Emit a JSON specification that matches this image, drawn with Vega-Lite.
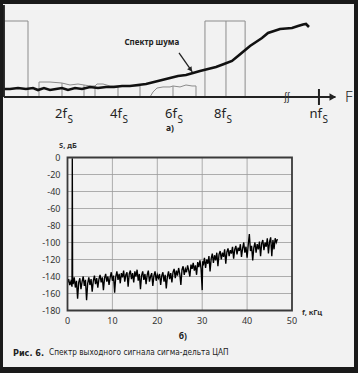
{
"$schema": "https://vega.github.io/schema/vega-lite/v6.json",
"width": 351, "height": 363, "autosize": "none",
"padding": {"left": 3, "top": 4, "right": 4, "bottom": 6},
"background": "#1a1a1a",
"config": {"view": {"fill": "#f2f2f2", "stroke": null}, "axis": {"disable": true}, "text": {"font": "Noto Sans", "color": "#222"}},
"resolve": {"scale": {"x": "independent", "y": "independent"}},
"layer": [
{
"encoding": {
"x": {"field": "a", "type": "quantitative", "scale": {"domain": [0, 12], "range": [9, 332.4], "nice": false, "zero": false}},
"y": {"field": "b", "type": "quantitative", "scale": {"domain": [0, 1], "range": [93, 17], "nice": false, "zero": false}}
},
"layer": [
{"data": {"values": [{"a": -0.3, "a2": 0.594, "b": 0, "b2": 1}, {"a": 7.16, "a2": 8.65, "b": 0, "b2": 1}]},
 "mark": {"type": "rect", "fillOpacity": 0, "stroke": "#8c8c8c", "strokeWidth": 1},
 "encoding": {"x2": {"field": "a2"}, "y2": {"field": "b2"}}},
{"data": {"values": [{"a": 7.94, "b": 0, "b2": 1}, {"a": 1.855, "b": 0, "b2": 0.184}, {"a": 2.672, "b": 0, "b2": 0.158}, {"a": 3.08, "b": 0, "b2": 0.145}, {"a": 3.933, "b": 0, "b2": 0.145}, {"a": 5.974, "b": 0, "b2": 0.145}]},
 "mark": {"type": "rule", "stroke": "#8c8c8c", "strokeWidth": 1},
 "encoding": {"y2": {"field": "b2"}}},
{"data": {"values": [
 {"a": 1.002, "b": 0, "g": 1, "i": 1}, {"a": 1.002, "b": 0.197, "g": 1, "i": 2}, {"a": 1.41, "b": 0.197, "g": 1, "i": 3}, {"a": 1.855, "b": 0.184, "g": 1, "i": 4}, {"a": 2.152, "b": 0.158, "g": 1, "i": 5}, {"a": 2.449, "b": 0.171, "g": 1, "i": 6}, {"a": 2.672, "b": 0.158, "g": 1, "i": 7}, {"a": 2.894, "b": 0.145, "g": 1, "i": 8}, {"a": 3.08, "b": 0.145, "g": 1, "i": 9}, {"a": 3.154, "b": 0.171, "g": 1, "i": 10}, {"a": 3.377, "b": 0.171, "g": 1, "i": 11}, {"a": 3.636, "b": 0.145, "g": 1, "i": 12}, {"a": 3.933, "b": 0.145, "g": 1, "i": 13}, {"a": 4.193, "b": 0.145, "g": 1, "i": 14}, {"a": 4.49, "b": 0.145, "g": 1, "i": 15}, {"a": 4.75, "b": 0.145, "g": 1, "i": 16}, {"a": 4.75, "b": 0, "g": 1, "i": 17},
 {"a": 5.121, "b": 0, "g": 2, "i": 1}, {"a": 5.232, "b": 0.066, "g": 2, "i": 2}, {"a": 5.38, "b": 0.118, "g": 2, "i": 3}, {"a": 5.603, "b": 0.132, "g": 2, "i": 4}, {"a": 5.863, "b": 0.132, "g": 2, "i": 5}, {"a": 5.974, "b": 0.145, "g": 2, "i": 6}, {"a": 6.234, "b": 0.132, "g": 2, "i": 7}, {"a": 6.456, "b": 0.158, "g": 2, "i": 8}, {"a": 6.679, "b": 0.145, "g": 2, "i": 9}, {"a": 6.827, "b": 0.145, "g": 2, "i": 10}, {"a": 6.827, "b": 0, "g": 2, "i": 11}
]},
 "mark": {"type": "line", "stroke": "#8c8c8c", "strokeWidth": 1},
 "encoding": {"detail": {"field": "g"}, "order": {"field": "i", "type": "quantitative"}}},
{"data": {"values": [
 {"a": -0.297, "b": 0.105}, {"a": -0.074, "b": 0.105}, {"a": 0.223, "b": 0.118}, {"a": 0.519, "b": 0.105}, {"a": 0.779, "b": 0.118}, {"a": 0.965, "b": 0.092}, {"a": 1.187, "b": 0.118}, {"a": 1.41, "b": 0.092}, {"a": 1.633, "b": 0.105}, {"a": 1.855, "b": 0.118}, {"a": 2.078, "b": 0.092}, {"a": 2.338, "b": 0.118}, {"a": 2.597, "b": 0.105}, {"a": 2.894, "b": 0.132}, {"a": 3.191, "b": 0.118}, {"a": 3.488, "b": 0.132}, {"a": 3.785, "b": 0.132}, {"a": 4.082, "b": 0.145}, {"a": 4.378, "b": 0.145}, {"a": 4.675, "b": 0.158}, {"a": 4.972, "b": 0.171}, {"a": 5.269, "b": 0.197}, {"a": 5.566, "b": 0.224}, {"a": 5.863, "b": 0.25}, {"a": 6.16, "b": 0.276}, {"a": 6.456, "b": 0.289}, {"a": 6.716, "b": 0.316}, {"a": 6.976, "b": 0.342}, {"a": 7.273, "b": 0.368}, {"a": 7.57, "b": 0.395}, {"a": 7.866, "b": 0.434}, {"a": 8.163, "b": 0.474}, {"a": 8.386, "b": 0.539}, {"a": 8.609, "b": 0.605}, {"a": 8.831, "b": 0.671}, {"a": 9.054, "b": 0.724}, {"a": 9.276, "b": 0.776}, {"a": 9.499, "b": 0.842}, {"a": 9.722, "b": 0.868}, {"a": 9.944, "b": 0.895}, {"a": 10.167, "b": 0.901}, {"a": 10.39, "b": 0.908}, {"a": 10.612, "b": 0.934}, {"a": 10.798, "b": 0.954}, {"a": 10.909, "b": 0.961}, {"a": 11.02, "b": 0.921}
]},
 "mark": {"type": "line", "stroke": "#111", "strokeWidth": 2.6}},
{"data": {"values": [{"a": -0.3, "a2": 12.0, "b": 0, "b2": 0}, {"a": -0.3, "a2": -0.3, "b": 0, "b2": 1.21}, {"a": 11.39, "a2": 11.39, "b": -0.105, "b2": 0.105}]},
 "mark": {"type": "rule", "stroke": "#222", "strokeWidth": 2},
 "encoding": {"x2": {"field": "a2"}, "y2": {"field": "b2"}}},
{"data": {"values": [{"a": 6.197, "a2": 6.69, "b": 0.579, "b2": 0.33}]},
 "mark": {"type": "rule", "stroke": "#222", "strokeWidth": 1.3},
 "encoding": {"x2": {"field": "a2"}, "y2": {"field": "b2"}}},
{"data": {"values": [{"a": 6.63, "b": 0.36}]},
 "mark": {"type": "point", "shape": "triangle-down", "filled": true, "color": "#222", "size": 30, "angle": -35, "opacity": 1}},
{"data": {"values": [{"a": 11.9, "b": 0}]},
 "mark": {"type": "point", "shape": "triangle-right", "filled": true, "color": "#222", "size": 55, "opacity": 1}},
{"data": {"values": [{"a": 10.2, "b": 0, "t": "ʃʃ"}]},
 "mark": {"type": "text", "fontSize": 10, "align": "center", "baseline": "middle", "color": "#333"},
 "encoding": {"text": {"field": "t"}}},
{"data": {"values": [{"a": 2.04, "b": -0.276, "t": "2f"}, {"a": 4.08, "b": -0.276, "t": "4f"}, {"a": 6.12, "b": -0.276, "t": "6f"}, {"a": 7.94, "b": -0.276, "t": "8f"}, {"a": 11.5, "b": -0.276, "t": "nf"}]},
 "mark": {"type": "text", "fontSize": 13, "align": "right", "baseline": "alphabetic"},
 "encoding": {"text": {"field": "t"}}},
{"data": {"values": [{"a": 2.04, "b": -0.342, "t": "S"}, {"a": 4.08, "b": -0.342, "t": "S"}, {"a": 6.12, "b": -0.342, "t": "S"}, {"a": 7.94, "b": -0.342, "t": "S"}, {"a": 11.5, "b": -0.342, "t": "S"}]},
 "mark": {"type": "text", "fontSize": 10, "align": "left", "baseline": "alphabetic", "dx": 0.5},
 "encoding": {"text": {"field": "t"}}},
{"data": {"values": [{"a": 12.5, "b": 0, "t": "F"}]},
 "mark": {"type": "text", "fontSize": 15, "align": "center", "baseline": "middle", "fontWeight": 300},
 "encoding": {"text": {"field": "t"}}},
{"data": {"values": [{"a": 5.86, "b": -0.408, "t": "а)"}]},
 "mark": {"type": "text", "fontSize": 8.5, "fontWeight": "bold", "align": "center", "baseline": "middle"},
 "encoding": {"text": {"field": "t"}}},
{"data": {"values": [{"a": 5.19, "b": 0.704, "t": "Спектр шума"}]},
 "mark": {"type": "text", "fontSize": 8, "fontWeight": "bold", "align": "center", "baseline": "middle"},
 "encoding": {"text": {"field": "t"}}}
]
},
{
"encoding": {
"x": {"field": "f", "type": "quantitative", "scale": {"domain": [0, 50], "range": [64.5, 289], "nice": false, "zero": false}},
"y": {"field": "s", "type": "quantitative", "scale": {"domain": [-180, 0], "range": [306.5, 153.5], "nice": false, "zero": false}}
},
"layer": [
{"data": {"values": [
 {"f": 10, "f2": 10, "s": -180, "s2": 0}, {"f": 20, "f2": 20, "s": -180, "s2": 0}, {"f": 30, "f2": 30, "s": -180, "s2": 0}, {"f": 40, "f2": 40, "s": -180, "s2": 0},
 {"f": 0, "f2": 50, "s": -20, "s2": -20}, {"f": 0, "f2": 50, "s": -40, "s2": -40}, {"f": 0, "f2": 50, "s": -60, "s2": -60}, {"f": 0, "f2": 50, "s": -80, "s2": -80}, {"f": 0, "f2": 50, "s": -100, "s2": -100}, {"f": 0, "f2": 50, "s": -120, "s2": -120}, {"f": 0, "f2": 50, "s": -140, "s2": -140}, {"f": 0, "f2": 50, "s": -160, "s2": -160}
]},
 "mark": {"type": "rule", "stroke": "#9a9a9a", "strokeWidth": 0.8},
 "encoding": {"x2": {"field": "f2"}, "y2": {"field": "s2"}}},
{"data": {"values": [
 {"f": 0.05, "s": -147}, {"f": 0.25, "s": -143}, {"f": 0.5, "s": -150}, {"f": 0.75, "s": -146}, {"f": 1.0, "s": -152}, {"f": 1.07, "s": -1}, {"f": 1.14, "s": -144}, {"f": 1.25, "s": -149}, {"f": 1.5, "s": -141}, {"f": 1.75, "s": -153}, {"f": 2.0, "s": -145}, {"f": 2.25, "s": -166}, {"f": 2.5, "s": -147}, {"f": 2.75, "s": -142}, {"f": 3.0, "s": -155}, {"f": 3.25, "s": -146}, {"f": 3.5, "s": -140}, {"f": 3.75, "s": -151}, {"f": 4.0, "s": -144}, {"f": 4.25, "s": -168}, {"f": 4.5, "s": -148}, {"f": 4.75, "s": -141}, {"f": 5.0, "s": -150}, {"f": 5.25, "s": -143}, {"f": 5.5, "s": -158}, {"f": 5.75, "s": -145}, {"f": 6.0, "s": -139}, {"f": 6.25, "s": -149}, {"f": 6.5, "s": -142}, {"f": 6.75, "s": -153}, {"f": 7.0, "s": -143}, {"f": 7.25, "s": -138}, {"f": 7.5, "s": -147}, {"f": 7.75, "s": -141}, {"f": 8.0, "s": -156}, {"f": 8.25, "s": -142}, {"f": 8.5, "s": -137}, {"f": 8.75, "s": -146}, {"f": 9.0, "s": -140}, {"f": 9.25, "s": -150}, {"f": 9.5, "s": -141}, {"f": 9.75, "s": -135}, {"f": 10.0, "s": -145}, {"f": 10.25, "s": -139}, {"f": 10.5, "s": -159}, {"f": 10.75, "s": -140}, {"f": 11.0, "s": -134}, {"f": 11.25, "s": -144}, {"f": 11.5, "s": -137}, {"f": 11.75, "s": -148}, {"f": 12.0, "s": -136}, {"f": 12.25, "s": -141}, {"f": 12.5, "s": -133}, {"f": 12.75, "s": -146}, {"f": 13.0, "s": -138}, {"f": 13.25, "s": -135}, {"f": 13.5, "s": -152}, {"f": 13.75, "s": -137}, {"f": 14.0, "s": -133}, {"f": 14.25, "s": -143}, {"f": 14.5, "s": -136}, {"f": 14.75, "s": -147}, {"f": 15.0, "s": -134}, {"f": 15.25, "s": -140}, {"f": 15.5, "s": -132}, {"f": 15.75, "s": -145}, {"f": 16.0, "s": -137}, {"f": 16.25, "s": -155}, {"f": 16.5, "s": -139}, {"f": 16.75, "s": -134}, {"f": 17.0, "s": -144}, {"f": 17.25, "s": -137}, {"f": 17.5, "s": -149}, {"f": 17.75, "s": -138}, {"f": 18.0, "s": -133}, {"f": 18.25, "s": -146}, {"f": 18.5, "s": -140}, {"f": 18.75, "s": -136}, {"f": 19.0, "s": -151}, {"f": 19.25, "s": -139}, {"f": 19.5, "s": -134}, {"f": 19.75, "s": -145}, {"f": 20.0, "s": -138}, {"f": 20.25, "s": -142}, {"f": 20.5, "s": -137}, {"f": 20.75, "s": -150}, {"f": 21.0, "s": -139}, {"f": 21.25, "s": -135}, {"f": 21.5, "s": -146}, {"f": 21.75, "s": -138}, {"f": 22.0, "s": -154}, {"f": 22.25, "s": -140}, {"f": 22.5, "s": -134}, {"f": 22.75, "s": -143}, {"f": 23.0, "s": -136}, {"f": 23.25, "s": -147}, {"f": 23.5, "s": -135}, {"f": 23.75, "s": -131}, {"f": 24.0, "s": -142}, {"f": 24.25, "s": -133}, {"f": 24.5, "s": -139}, {"f": 24.75, "s": -130}, {"f": 25.0, "s": -137}, {"f": 25.25, "s": -150}, {"f": 25.5, "s": -132}, {"f": 25.75, "s": -128}, {"f": 26.0, "s": -138}, {"f": 26.25, "s": -131}, {"f": 26.5, "s": -135}, {"f": 26.75, "s": -127}, {"f": 27.0, "s": -133}, {"f": 27.25, "s": -140}, {"f": 27.5, "s": -126}, {"f": 27.75, "s": -131}, {"f": 28.0, "s": -124}, {"f": 28.25, "s": -133}, {"f": 28.5, "s": -127}, {"f": 28.75, "s": -138}, {"f": 29.0, "s": -123}, {"f": 29.25, "s": -129}, {"f": 29.5, "s": -121}, {"f": 29.75, "s": -131}, {"f": 30.0, "s": -156}, {"f": 30.1, "s": -122}, {"f": 30.25, "s": -127}, {"f": 30.5, "s": -118}, {"f": 30.75, "s": -130}, {"f": 31.0, "s": -120}, {"f": 31.25, "s": -125}, {"f": 31.5, "s": -116}, {"f": 31.75, "s": -134}, {"f": 32.0, "s": -119}, {"f": 32.25, "s": -113}, {"f": 32.5, "s": -124}, {"f": 32.75, "s": -115}, {"f": 33.0, "s": -121}, {"f": 33.25, "s": -112}, {"f": 33.5, "s": -128}, {"f": 33.75, "s": -114}, {"f": 34.0, "s": -110}, {"f": 34.25, "s": -120}, {"f": 34.5, "s": -112}, {"f": 34.75, "s": -117}, {"f": 35.0, "s": -108}, {"f": 35.25, "s": -125}, {"f": 35.5, "s": -111}, {"f": 35.75, "s": -107}, {"f": 36.0, "s": -116}, {"f": 36.25, "s": -109}, {"f": 36.5, "s": -113}, {"f": 36.75, "s": -105}, {"f": 37.0, "s": -119}, {"f": 37.25, "s": -108}, {"f": 37.5, "s": -104}, {"f": 37.75, "s": -114}, {"f": 38.0, "s": -106}, {"f": 38.25, "s": -110}, {"f": 38.5, "s": -102}, {"f": 38.75, "s": -117}, {"f": 39.0, "s": -107}, {"f": 39.25, "s": -100}, {"f": 39.5, "s": -112}, {"f": 39.75, "s": -105}, {"f": 40.0, "s": -118}, {"f": 40.25, "s": -103}, {"f": 40.5, "s": -90}, {"f": 40.75, "s": -110}, {"f": 41.0, "s": -104}, {"f": 41.25, "s": -121}, {"f": 41.5, "s": -106}, {"f": 41.75, "s": -100}, {"f": 42.0, "s": -112}, {"f": 42.25, "s": -102}, {"f": 42.5, "s": -108}, {"f": 42.75, "s": -99}, {"f": 43.0, "s": -116}, {"f": 43.25, "s": -101}, {"f": 43.5, "s": -97}, {"f": 43.75, "s": -109}, {"f": 44.0, "s": -100}, {"f": 44.25, "s": -105}, {"f": 44.5, "s": -95}, {"f": 44.75, "s": -113}, {"f": 45.0, "s": -99}, {"f": 45.25, "s": -94}, {"f": 45.5, "s": -116}, {"f": 45.75, "s": -97}, {"f": 46.0, "s": -108}, {"f": 46.25, "s": -95}, {"f": 46.5, "s": -100}, {"f": 46.75, "s": -96}
]},
 "mark": {"type": "line", "stroke": "#000", "strokeWidth": 1.35}},
{"data": {"values": [{"f": 0, "f2": 50, "s": -180, "s2": 0}]},
 "mark": {"type": "rect", "fillOpacity": 0, "stroke": "#3a3a3a", "strokeWidth": 1.8},
 "encoding": {"x2": {"field": "f2"}, "y2": {"field": "s2"}}},
{"data": {"values": [{"f": -1.56, "s": 0, "t": "0"}, {"f": -1.56, "s": -20, "t": "-20"}, {"f": -1.56, "s": -40, "t": "-40"}, {"f": -1.56, "s": -60, "t": "-60"}, {"f": -1.56, "s": -80, "t": "-80"}, {"f": -1.56, "s": -100, "t": "-100"}, {"f": -1.56, "s": -120, "t": "-120"}, {"f": -1.56, "s": -140, "t": "-140"}, {"f": -1.56, "s": -160, "t": "-160"}, {"f": -1.56, "s": -180, "t": "-180"}]},
 "mark": {"type": "text", "fontSize": 9, "align": "right", "baseline": "middle", "color": "#333"},
 "encoding": {"text": {"field": "t"}}},
{"data": {"values": [{"f": 0, "s": -192.3, "t": "0"}, {"f": 10, "s": -192.3, "t": "10"}, {"f": 20, "s": -192.3, "t": "20"}, {"f": 30, "s": -192.3, "t": "30"}, {"f": 40, "s": -192.3, "t": "40"}, {"f": 50, "s": -192.3, "t": "50"}]},
 "mark": {"type": "text", "fontSize": 9, "align": "center", "baseline": "middle", "color": "#333"},
 "encoding": {"text": {"field": "t"}}},
{"data": {"values": [{"f": -1.89, "s": 13.5, "t": "S, дБ"}, {"f": 52.2, "s": -182.9, "t": "f, кГц"}]},
 "mark": {"type": "text", "fontSize": 7.5, "fontWeight": "bold", "align": "left", "baseline": "middle", "color": "#333"},
 "encoding": {"text": {"field": "t"}}},
{"data": {"values": [{"f": 25.7, "s": -209.6, "t": "б)"}]},
 "mark": {"type": "text", "fontSize": 8.5, "fontWeight": "bold", "align": "center", "baseline": "middle"},
 "encoding": {"text": {"field": "t"}}},
{"data": {"values": [{"f": -12.14, "s": -229.9, "t": "Рис. 6."}]},
 "mark": {"type": "text", "font": "Liberation Sans Narrow, DejaVu Sans Condensed, Roboto", "fontSize": 9, "fontWeight": "bold", "align": "left", "baseline": "middle"},
 "encoding": {"text": {"field": "t"}}},
{"data": {"values": [{"f": -4.12, "s": -229.9, "t": "Спектр выходного сигнала сигма-дельта ЦАП"}]},
 "mark": {"type": "text", "font": "Liberation Sans Narrow, DejaVu Sans Condensed, Roboto", "fontSize": 8.2, "align": "left", "baseline": "middle"},
 "encoding": {"text": {"field": "t"}}}
]
}
]
}
